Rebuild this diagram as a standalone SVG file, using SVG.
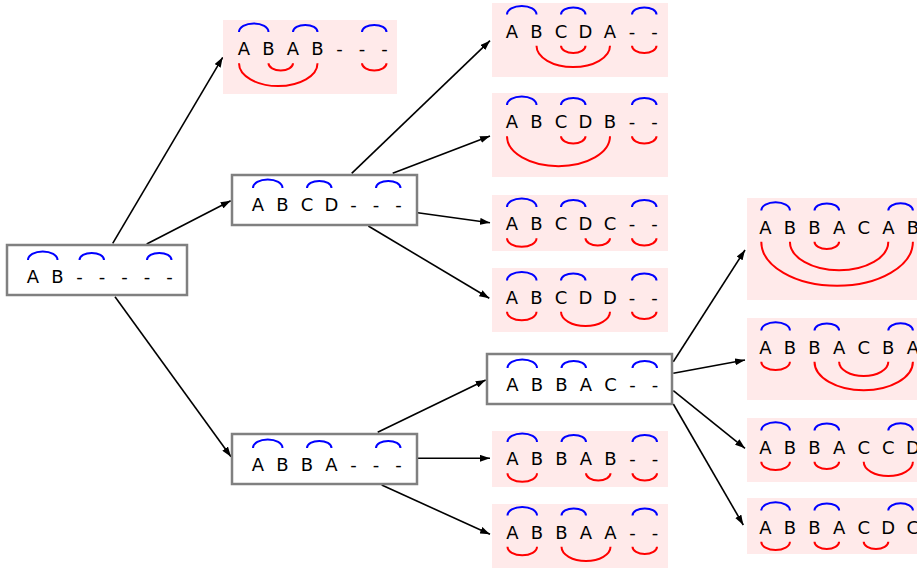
<svg xmlns="http://www.w3.org/2000/svg" width="917" height="572" viewBox="0 0 917 572">
<defs>
<marker id="ah" viewBox="0 0 10 7" refX="10" refY="3.5" markerWidth="10" markerHeight="7" markerUnits="userSpaceOnUse" orient="auto">
<path d="M0,0 L10,3.5 L0,7 z" fill="#000"/>
</marker>
</defs>
<style>
.w{fill:#fff;stroke:#808080;stroke-width:2.5}
.p{fill:#ffeaea;stroke:none}
.t{font-family:"DejaVu Sans",sans-serif;font-size:18px;fill:#000;text-anchor:middle}
.b{fill:none;stroke:#0000ff;stroke-width:2}
.r{fill:none;stroke:#ff0000;stroke-width:2}
.e{stroke:#000;stroke-width:1.6;fill:none;marker-end:url(#ah)}
</style>
<rect width="917" height="572" fill="#fff"/>
<g id="connectors">
<line class="e" x1="112.7" y1="243.3" x2="222.7" y2="57.3"/>
<line class="e" x1="146.7" y1="244" x2="230.7" y2="200.7"/>
<line class="e" x1="115" y1="296.7" x2="231" y2="456.7"/>
<line class="e" x1="351.7" y1="173.3" x2="490" y2="40.7"/>
<line class="e" x1="392.7" y1="173.3" x2="490" y2="136"/>
<line class="e" x1="417.7" y1="212.7" x2="490" y2="222.7"/>
<line class="e" x1="368.3" y1="226" x2="489.3" y2="298.3"/>
<line class="e" x1="377.7" y1="432.3" x2="485.7" y2="380"/>
<line class="e" x1="417.7" y1="458.3" x2="490" y2="458.3"/>
<line class="e" x1="381.7" y1="485" x2="490" y2="534.3"/>
<line class="e" x1="673.3" y1="361.7" x2="745" y2="250"/>
<line class="e" x1="673.3" y1="373.3" x2="745" y2="360"/>
<line class="e" x1="673.3" y1="390.7" x2="745" y2="448.3"/>
<line class="e" x1="673.3" y1="404" x2="743.3" y2="525"/>
</g>
<g id="n_AB">
<rect class="w" x="7" y="245" width="180" height="50"/>
<text class="t" x="33 57.5 79.5 102 124.5 147 169.5" y="283">AB-----</text>
<path class="b" d="M28 260 A14.75 8.56 0 0 1 57.5 260 M79.5 260 A12.25 7.1 0 0 1 104 260 M147 260 A12.25 7.1 0 0 1 171.5 260"/>
</g>
<g id="n_ABAB">
<rect class="p" x="223" y="20" width="174" height="74"/>
<text class="t" x="244 268.5 293 317.5 339.5 362 384.5" y="55">ABAB---</text>
<path class="b" d="M239 32 A14.75 8.56 0 0 1 268.5 32 M293 32 A12.25 7.1 0 0 1 317.5 32 M362 32 A12.25 7.1 0 0 1 386.5 32"/>
<path class="r" d="M268.5 63.3 A12.25 7.1 0 0 0 293 63.3 M239 63.3 A39.25 22.8 0 0 0 317.5 63.3 M362 63.3 A12.25 7.1 0 0 0 386.5 63.3"/>
</g>
<g id="n_ABCD">
<rect class="w" x="232" y="175" width="185" height="50"/>
<text class="t" x="258 282.5 307 331.5 353.5 376 398.5" y="211">ABCD---</text>
<path class="b" d="M253 188 A14.75 8.56 0 0 1 282.5 188 M307 188 A12.25 7.1 0 0 1 331.5 188 M376 188 A12.25 7.1 0 0 1 400.5 188"/>
</g>
<g id="n_ABBA">
<rect class="w" x="232" y="434" width="185" height="50"/>
<text class="t" x="258 282.5 307 331.5 353.5 376 398.5" y="471">ABBA---</text>
<path class="b" d="M253 448 A14.75 8.56 0 0 1 282.5 448 M307 448 A12.25 7.1 0 0 1 331.5 448 M376 448 A12.25 7.1 0 0 1 400.5 448"/>
</g>
<g id="n_ABCDA">
<rect class="p" x="492" y="3" width="176" height="74"/>
<text class="t" x="512 536.5 561 585.5 610 632 654.5" y="37.5">ABCDA--</text>
<path class="b" d="M507 14.5 A14.75 8.56 0 0 1 536.5 14.5 M561 14.5 A12.25 7.1 0 0 1 585.5 14.5 M632 14.5 A12.25 7.1 0 0 1 656.5 14.5"/>
<path class="r" d="M561 45.8 A12.25 7.1 0 0 0 585.5 45.8 M536.5 45.8 A36.75 21.3 0 0 0 610 45.8 M632 45.8 A12.25 7.1 0 0 0 656.5 45.8"/>
</g>
<g id="n_ABCDB">
<rect class="p" x="492" y="93" width="176" height="84"/>
<text class="t" x="512 536.5 561 585.5 610 632 654.5" y="128">ABCDB--</text>
<path class="b" d="M507 105 A14.75 8.56 0 0 1 536.5 105 M561 105 A12.25 7.1 0 0 1 585.5 105 M632 105 A12.25 7.1 0 0 1 656.5 105"/>
<path class="r" d="M507 136.3 A51.5 29.9 0 0 0 610 136.3 M561 136.3 A12.25 7.1 0 0 0 585.5 136.3 M632 136.3 A12.25 7.1 0 0 0 656.5 136.3"/>
</g>
<g id="n_ABCDC">
<rect class="p" x="492" y="195" width="176" height="56"/>
<text class="t" x="512 536.5 561 585.5 610 632 654.5" y="230">ABCDC--</text>
<path class="b" d="M507 207 A14.75 8.56 0 0 1 536.5 207 M561 207 A12.25 7.1 0 0 1 585.5 207 M632 207 A12.25 7.1 0 0 1 656.5 207"/>
<path class="r" d="M507 238.3 A14.75 8.56 0 0 0 536.5 238.3 M585.5 238.3 A12.25 7.1 0 0 0 610 238.3 M632 238.3 A12.25 7.1 0 0 0 656.5 238.3"/>
</g>
<g id="n_ABCDD">
<rect class="p" x="492" y="268" width="176" height="64"/>
<text class="t" x="512 536.5 561 585.5 610 632 654.5" y="303.5">ABCDD--</text>
<path class="b" d="M507 280.5 A14.75 8.56 0 0 1 536.5 280.5 M561 280.5 A12.25 7.1 0 0 1 585.5 280.5 M632 280.5 A12.25 7.1 0 0 1 656.5 280.5"/>
<path class="r" d="M507 311.8 A14.75 8.56 0 0 0 536.5 311.8 M561 311.8 A24.5 14.2 0 0 0 610 311.8 M632 311.8 A12.25 7.1 0 0 0 656.5 311.8"/>
</g>
<g id="n_ABBAC">
<rect class="w" x="487" y="354" width="185" height="50"/>
<text class="t" x="512.5 537 561.5 586 610.5 632.5 655" y="391">ABBAC--</text>
<path class="b" d="M507.5 368 A14.75 8.56 0 0 1 537 368 M561.5 368 A12.25 7.1 0 0 1 586 368 M632.5 368 A12.25 7.1 0 0 1 657 368"/>
</g>
<g id="n_ABBAB">
<rect class="p" x="492" y="431" width="176" height="56"/>
<text class="t" x="512.5 537 561.5 586 610.5 632.5 655" y="465">ABBAB--</text>
<path class="b" d="M507.5 442 A14.75 8.56 0 0 1 537 442 M561.5 442 A12.25 7.1 0 0 1 586 442 M632.5 442 A12.25 7.1 0 0 1 657 442"/>
<path class="r" d="M507.5 473.3 A14.75 8.56 0 0 0 537 473.3 M586 473.3 A12.25 7.1 0 0 0 610.5 473.3 M632.5 473.3 A12.25 7.1 0 0 0 657 473.3"/>
</g>
<g id="n_ABBAA">
<rect class="p" x="492" y="504" width="176" height="64"/>
<text class="t" x="512.5 537 561.5 586 610.5 632.5 655" y="538.5">ABBAA--</text>
<path class="b" d="M507.5 515.5 A14.75 8.56 0 0 1 537 515.5 M561.5 515.5 A12.25 7.1 0 0 1 586 515.5 M632.5 515.5 A12.25 7.1 0 0 1 657 515.5"/>
<path class="r" d="M507.5 546.8 A14.75 8.56 0 0 0 537 546.8 M561.5 546.8 A24.5 14.2 0 0 0 610.5 546.8 M632.5 546.8 A12.25 7.1 0 0 0 657 546.8"/>
</g>
<g id="n_ABBACAB">
<rect class="p" x="747" y="198" width="180" height="102"/>
<text class="t" x="765.3 789.9 814.5 839.1 863.7 888.3 912.9" y="233.5">ABBACAB</text>
<path class="b" d="M761.3 210.5 A14.3 8.3 0 0 1 789.9 210.5 M814.5 210.5 A12.3 7.13 0 0 1 839.1 210.5 M888.3 210.5 A12.3 7.13 0 0 1 912.9 210.5"/>
<path class="r" d="M761.3 241.8 A75.8 44 0 0 0 912.9 241.8 M789.9 241.8 A49.2 28.5 0 0 0 888.3 241.8 M814.5 241.8 A12.3 7.13 0 0 0 839.1 241.8"/>
</g>
<g id="n_ABBACBA">
<rect class="p" x="747" y="318" width="180" height="82"/>
<text class="t" x="765.3 789.9 814.5 839.1 863.7 888.3 912.9" y="353.5">ABBACBA</text>
<path class="b" d="M761.3 330.5 A14.3 8.3 0 0 1 789.9 330.5 M814.5 330.5 A12.3 7.13 0 0 1 839.1 330.5 M888.3 330.5 A12.3 7.13 0 0 1 912.9 330.5"/>
<path class="r" d="M761.3 361.8 A14.3 8.3 0 0 0 789.9 361.8 M814.5 361.8 A49.2 28.5 0 0 0 912.9 361.8 M839.1 361.8 A24.6 14.3 0 0 0 888.3 361.8"/>
</g>
<g id="n_ABBACCD">
<rect class="p" x="747" y="418" width="180" height="64"/>
<text class="t" x="765.3 789.9 814.5 839.1 863.7 888.3 912.9" y="453.5">ABBACCD</text>
<path class="b" d="M761.3 430.5 A14.3 8.3 0 0 1 789.9 430.5 M814.5 430.5 A12.3 7.13 0 0 1 839.1 430.5 M888.3 430.5 A12.3 7.13 0 0 1 912.9 430.5"/>
<path class="r" d="M761.3 461.8 A14.3 8.3 0 0 0 789.9 461.8 M814.5 461.8 A12.3 7.13 0 0 0 839.1 461.8 M863.7 461.8 A24.6 14.3 0 0 0 912.9 461.8"/>
</g>
<g id="n_ABBACDC">
<rect class="p" x="747" y="498" width="180" height="56"/>
<text class="t" x="765.3 789.9 814.5 839.1 863.7 888.3 912.9" y="533.5">ABBACDC</text>
<path class="b" d="M761.3 510.5 A14.3 8.3 0 0 1 789.9 510.5 M814.5 510.5 A12.3 7.13 0 0 1 839.1 510.5 M888.3 510.5 A12.3 7.13 0 0 1 912.9 510.5"/>
<path class="r" d="M761.3 541.8 A14.3 8.3 0 0 0 789.9 541.8 M814.5 541.8 A12.3 7.13 0 0 0 839.1 541.8 M863.7 541.8 A12.3 7.13 0 0 0 888.3 541.8"/>
</g>
</svg>
